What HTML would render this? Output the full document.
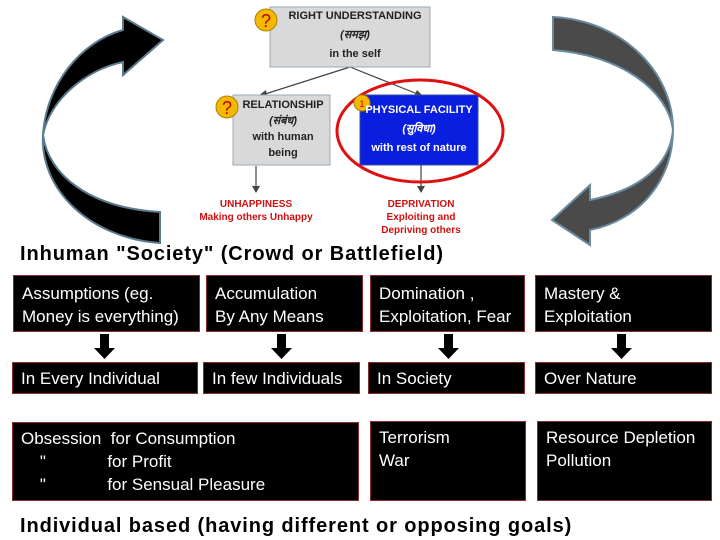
<!DOCTYPE html>
<html><head><meta charset="utf-8"><style>
body{margin:0;width:720px;height:540px;background:#fff;position:relative;overflow:hidden;font-family:"Liberation Sans","Noto Sans CJK SC",sans-serif}
.b{position:absolute;background:#000;border:1.5px solid #8a2a2a;color:#fff;font-size:17px;line-height:23px;padding:6px 0 0 8px;box-sizing:border-box;white-space:pre}
.t{position:absolute;font-weight:bold;font-size:20px;color:#000;white-space:nowrap;letter-spacing:0.9px}
.g{position:absolute;text-align:center;font-weight:bold;font-size:11px;line-height:19px;box-sizing:border-box}
.r{position:absolute;text-align:center;color:#d01010;font-weight:bold;font-size:10px;line-height:13px;white-space:nowrap}
</style></head><body>
<svg width="720" height="540" style="position:absolute;left:0;top:0">
<path d="M160,243 C90,238 40,190 43,135 C46,85 80,42 123,30 L123,17 L163,40 L123,75 L123,62 C85,70 50,100 43,135 C48,175 90,208 160,212 Z" fill="#000" stroke="#5a7a8c" stroke-width="2"/>
<path d="M553,17 C620,20 673,70 673,130 C673,180 640,220 590,230 L590,245 L552,220 L590,185 L590,200 C640,190 670,165 673,130 C668,90 620,55 553,50 Z" fill="#4a4a4a" stroke="#6a8aa0" stroke-width="2"/>
<line x1="350" y1="67" x2="262" y2="95" stroke="#444" stroke-width="1.2"/>
<polygon points="258,96 266,90 267,97" fill="#444"/>
<line x1="350" y1="67" x2="420" y2="95" stroke="#444" stroke-width="1.2"/>
<polygon points="424,97 414,96 417,90" fill="#444"/>
<line x1="256" y1="166" x2="256" y2="190" stroke="#444" stroke-width="1.2"/>
<polygon points="252,186 260,186 256,193" fill="#444"/>
<line x1="421" y1="165" x2="421" y2="190" stroke="#444" stroke-width="1.2"/>
<polygon points="417,186 425,186 421,193" fill="#444"/>
<rect x="270" y="7" width="160" height="60" fill="#d9d9d9" stroke="#9aaab8"/>
<rect x="233" y="95" width="97" height="70" fill="#d9d9d9" stroke="#9aaab8"/>
<rect x="360" y="95" width="118" height="70" fill="#0a1ee0" stroke="#3050a0"/>
<ellipse cx="420" cy="131" rx="83" ry="51" fill="none" stroke="#dd1111" stroke-width="3"/>
<circle cx="266" cy="20" r="11" fill="#f5b800" stroke="#b08000"/>
<text x="266" y="27" text-anchor="middle" font-size="18" fill="#c00000" font-family="Liberation Sans">?</text>
<circle cx="227" cy="107" r="11" fill="#f5b800" stroke="#b08000"/>
<text x="227" y="114" text-anchor="middle" font-size="18" fill="#c00000" font-family="Liberation Sans">?</text>
<circle cx="362" cy="103" r="8" fill="#f5b800" stroke="#b08000"/>
<text x="362" y="107" text-anchor="middle" font-size="9" fill="#c00000" font-family="Liberation Sans">1</text>
<g fill="#000">
<rect x="100" y="334" width="9" height="16"/><polygon points="94,348 115,348 104.5,359"/>
<rect x="277" y="334" width="9" height="16"/><polygon points="271,348 292,348 281.5,359"/>
<rect x="444" y="334" width="9" height="16"/><polygon points="438,348 459,348 448.5,359"/>
<rect x="617" y="334" width="9" height="16"/><polygon points="611,348 632,348 621.5,359"/>
</g>
</svg>
<div class="g" style="left:280px;top:7px;width:150px;color:#222">RIGHT UNDERSTANDING<br><i style="font-weight:bold">(समझ)</i><br>in the self</div>
<div class="g" style="left:236px;top:97px;width:94px;line-height:16px;color:#222">RELATIONSHIP<br><i>(संबंध)</i><br>with human<br>being</div>
<div class="g" style="left:362px;top:101px;width:114px;color:#fff">PHYSICAL FACILITY<br><i>(सुविधा)</i><br>with rest of nature</div>
<div class="r" style="left:186px;top:198px;width:140px">UNHAPPINESS<br>Making others Unhappy</div>
<div class="r" style="left:356px;top:198px;width:130px">DEPRIVATION<br>Exploiting and<br>Depriving others</div>
<div class="t" style="left:20px;top:243px">Inhuman "Society" (Crowd or Battlefield)</div>
<div class="b" style="left:13px;top:275px;width:187px;height:57px">Assumptions (eg.
Money is everything)</div>
<div class="b" style="left:206px;top:275px;width:157px;height:57px">Accumulation
By Any Means</div>
<div class="b" style="left:370px;top:275px;width:155px;height:57px">Domination ,
Exploitation, Fear</div>
<div class="b" style="left:535px;top:275px;width:177px;height:57px">Mastery &amp;
Exploitation</div>
<div class="b" style="left:12px;top:362px;width:186px;height:32px;padding-top:4px">In Every Individual</div>
<div class="b" style="left:203px;top:362px;width:157px;height:32px;padding-top:4px">In few Individuals</div>
<div class="b" style="left:368px;top:362px;width:157px;height:32px;padding-top:4px">In Society</div>
<div class="b" style="left:535px;top:362px;width:177px;height:32px;padding-top:4px">Over Nature</div>
<div class="b" style="left:12px;top:422px;width:347px;height:79px;padding-top:4px">Obsession  for Consumption
    "             for Profit
    "             for Sensual Pleasure</div>
<div class="b" style="left:370px;top:421px;width:156px;height:80px;padding-top:4px">Terrorism
War</div>
<div class="b" style="left:537px;top:421px;width:175px;height:80px;padding-top:4px">Resource Depletion
Pollution</div>
<div class="t" style="left:20px;top:515px">Individual based (having different or opposing goals)</div>
</body></html>
